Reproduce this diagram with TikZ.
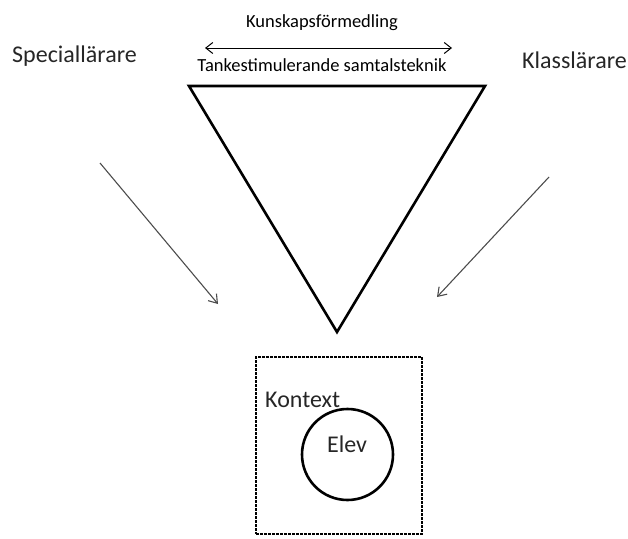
\documentclass[tikz,border=0pt]{standalone}
\usepackage{fontspec}
\setmainfont{Carlito}
\usetikzlibrary{arrows.meta}
\tikzset{
  lbl/.style={inner sep=0pt, text=black!85, font=\fontsize{24}{28}\selectfont},
  smalllbl/.style={inner sep=0pt, text=black, font=\fontsize{18.5}{22}\selectfont},
  barb/.tip={Straight Barb[length=7pt, width=11pt]},
  pointer/.style={-{Straight Barb[length=8pt, width=11pt]}, line width=1.1pt, draw=black!70},
}
\begin{document}
\begin{tikzpicture}[x=1pt,y=-1pt]
      \useasboundingbox (0,0) rectangle (628,538);
      % triangle
      \coordinate (tl) at (189,86);
      \coordinate (tr) at (485,86);
      \coordinate (tb) at (337,332);
      \draw[line width=2.6pt, line join=miter] (tl) -- (tr) -- (tb) -- cycle;
      \node[smalllbl, anchor=base] (kunskap) at (322,27) {Kunskapsförmedling};
      \node[smalllbl, anchor=base] (samtal) at (322,71) {Tankestimulerande samtalsteknik};
      \coordinate (al) at (205,48);
      \coordinate (ar) at (452,48);
      \draw[barb-barb, line width=1pt] (al) -- (ar);
      % teachers
      \node[lbl, anchor=base west] (special) at (12,62) {Speciallärare};
      \node[lbl, anchor=base west] (klass) at (522,68) {Klasslärare};
      \coordinate (sp) at (218,304);
      \coordinate (kl) at (437,297);
      \coordinate (sps) at (100,163);
      \coordinate (kls) at (549,177);
      \draw[pointer] (sps) -- (sp);
      \draw[pointer] (kls) -- (kl);
      % pupil in context
      \node[draw, line width=2.8pt, dash pattern=on 2.6pt off 1.4pt, minimum width=166pt,
        minimum height=177pt, inner sep=0pt] (kontextbox) at (339,445.5) {};
      \node[lbl, anchor=base west] (kontext) at (265,407) {Kontext};
      \node[draw, circle, line width=2.6pt, minimum size=91pt, inner sep=0pt] (ring) at (347.5,454.5) {};
      \node[lbl, anchor=base] (elev) at (347,452) {Elev};
    \end{tikzpicture}
\end{document}
